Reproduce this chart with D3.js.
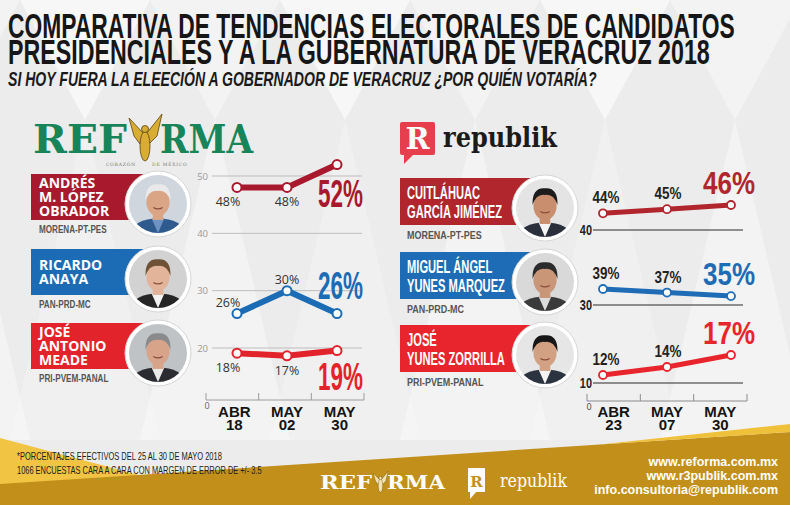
<!DOCTYPE html>
<html lang="es">
<head>
<meta charset="UTF-8">
<title>Comparativa de tendencias electorales 2018</title>
<script src="https://d3js.org/d3.v7.min.js"></script>
<style>
  body { margin: 0; background: #ececec; }
  svg { display: block; }
</style>
</head>
<body>
<script>
// ---- data ----
var reformaDates = ["ABR 18", "MAY 02", "MAY 30"];
var republikDates = ["ABR 23", "MAY 07", "MAY 30"];

var reformaNames = [["ANDRÉS", "M. LÓPEZ", "OBRADOR"], ["RICARDO", "ANAYA"], ["JOSÉ", "ANTONIO", "MEADE"]];
var republikNames = [["CUITLÁHUAC", "GARCÍA JIMÉNEZ"], ["MIGUEL ÁNGEL", "YUNES MARQUEZ"], ["JOSÉ", "YUNES ZORRILLA"]];
var parties = ["MORENA-PT-PES", "PAN-PRD-MC", "PRI-PVEM-PANAL"];

var lopezObrador = [48, 48, 52];
var anaya = [26, 30, 26];
var meade = [18, 17, 19];
var garciaJimenez = [44, 45, 46];
var yunesMarquez = [39, 37, 35];
var yunesZorrilla = [12, 14, 17];

var reformaTicks = [20, 30, 40, 50];
var republikTicks = [40, 30, 10];

var w = 790, h = 505;
var cond = "'Liberation Sans Narrow', 'Liberation Sans', Arial, sans-serif";
var sans = "'Liberation Sans', Arial, sans-serif";
var serif = "'DejaVu Serif', 'Liberation Serif', serif";

var svg = d3.select("body").append("svg")
    .attr("width", w)
    .attr("height", h);

var defs = svg.append("defs");

// squeeze a text horizontally round its anchor point
function squeeze(sel, factor) {
    var x = +sel.attr("x"), y = +sel.attr("y");
    sel.attr("x", null).attr("y", null)
        .attr("transform", "translate(" + x + "," + y + ") scale(" + factor + ",1)");
    return sel;
}
// squeeze a text to a given width
function fit(sel, width) {
    return squeeze(sel, width / sel.node().getComputedTextLength());
}

// ---- background ----
svg.append("rect").attr("width", w).attr("height", h).attr("fill", "#ececec");
var bg = svg.append("g");
for (var i = -1; i < 7; i++) {
    var x0 = i * 130 + 20;
    bg.append("polygon")
        .attr("points", [[x0, 0], [x0 + 130, 0], [x0 + 65, 120]].join(" "))
        .attr("fill", "#fafafa").attr("opacity", i % 2 ? 0.55 : 0.8);
    bg.append("polygon")
        .attr("points", [[x0 + 65, 120], [x0 - 10, 440], [x0 + 140, 440]].join(" "))
        .attr("fill", "#f8f8f8").attr("opacity", i % 2 ? 0.6 : 0.35);
}

// ---- title ----
fit(svg.append("text").attr("x", 8).attr("y", 38)
    .attr("font-family", cond).attr("font-weight", "bold").attr("font-size", 35)
    .attr("fill", "#161616")
    .text("COMPARATIVA DE TENDENCIAS ELECTORALES DE CANDIDATOS"), 727);
fit(svg.append("text").attr("x", 8).attr("y", 64)
    .attr("font-family", cond).attr("font-weight", "bold").attr("font-size", 35)
    .attr("fill", "#161616")
    .text("PRESIDENCIALES Y A LA GUBERNATURA DE VERACRUZ 2018"), 702);
fit(svg.append("text").attr("x", 8).attr("y", 86)
    .attr("font-family", cond).attr("font-style", "italic").attr("font-weight", "bold").attr("font-size", 21)
    .attr("fill", "#1a1a1a")
    .text("SI HOY FUERA LA ELEECIÓN A GOBERNADOR DE VERACRUZ ¿POR QUIÉN VOTARÍA?"), 589);

// ---- logos ----
function angel(g, x, y, s, fill) {
    var a = g.append("g").attr("transform", "translate(" + x + "," + y + ") scale(" + s + ")");
    a.append("path")
        .attr("d", "M0,-4 L-15,-20 L-10,-2 L-4,6 Z M2,-4 L18,-24 L13,-2 L5,6 Z")
        .attr("fill", fill).attr("stroke", "#5a4310").attr("stroke-width", 0.8);
    a.append("ellipse").attr("cx", 1).attr("cy", 8).attr("rx", 5).attr("ry", 15)
        .attr("fill", fill).attr("stroke", "#5a4310").attr("stroke-width", 0.8);
    a.append("circle").attr("cx", 1).attr("cy", -9).attr("r", 3.5)
        .attr("fill", fill).attr("stroke", "#5a4310").attr("stroke-width", 0.8);
}

var reformaGreen = "#17845a";
fit(svg.append("text").attr("x", 33).attr("y", 153)
    .attr("font-family", serif).attr("font-weight", "bold").attr("font-size", 39)
    .attr("fill", reformaGreen).text("REF"), 94);
fit(svg.append("text").attr("x", 160).attr("y", 153)
    .attr("font-family", serif).attr("font-weight", "bold").attr("font-size", 39)
    .attr("fill", reformaGreen).text("RMA"), 93);
angel(svg, 144, 138, 1, "#d8ad32");
svg.append("text").attr("x", 136).attr("y", 166).attr("text-anchor", "end")
    .attr("font-family", serif).attr("font-size", 4.5).attr("fill", "#777")
    .attr("letter-spacing", 0.8).text("CORAZÓN");
svg.append("text").attr("x", 152).attr("y", 166)
    .attr("font-family", serif).attr("font-size", 4.5).attr("fill", "#777")
    .attr("letter-spacing", 0.8).text("DE MÉXICO");

svg.append("rect").attr("x", 400).attr("y", 122).attr("width", 35).attr("height", 33).attr("rx", 2)
    .attr("fill", "#e63e4d");
svg.append("polygon").attr("points", "404,152 404,164 415,153").attr("fill", "#e63e4d");
svg.append("text").attr("x", 417.5).attr("y", 149).attr("text-anchor", "middle")
    .attr("font-family", serif).attr("font-weight", "bold").attr("font-size", 29)
    .attr("fill", "#fff").text("R");
fit(svg.append("text").attr("x", 443).attr("y", 147)
    .attr("font-family", serif).attr("font-weight", "bold").attr("font-size", 27)
    .attr("fill", "#1b1b1b").text("republik"), 114);

// ---- candidate cards ----
var portraitId = 0;
function portrait(g, cx, cy, r, look) {
    var id = "clip" + (portraitId++);
    defs.append("clipPath").attr("id", id)
        .append("circle").attr("cx", cx).attr("cy", cy).attr("r", r);
    g.append("circle").attr("cx", cx).attr("cy", cy).attr("r", r + 4)
        .attr("fill", "#fff").attr("stroke", "#d6d6d6").attr("stroke-width", 1);
    var p = g.append("g").attr("clip-path", "url(#" + id + ")");
    p.append("rect").attr("x", cx - r).attr("y", cy - r).attr("width", 2 * r).attr("height", 2 * r)
        .attr("fill", look.bg);
    p.append("ellipse").attr("cx", cx).attr("cy", cy + r * 1.0).attr("rx", r * 0.95).attr("ry", r * 0.5)
        .attr("fill", look.suit);
    p.append("polygon")
        .attr("points", [[cx - r * 0.22, cy + r * 0.5], [cx + r * 0.22, cy + r * 0.5], [cx, cy + r]].join(" "))
        .attr("fill", look.shirt);
    p.append("rect").attr("x", cx - r * 0.18).attr("y", cy + r * 0.2).attr("width", r * 0.36).attr("height", r * 0.35)
        .attr("fill", look.skin);
    p.append("ellipse").attr("cx", cx).attr("cy", cy - r * 0.08).attr("rx", r * 0.4).attr("ry", r * 0.5)
        .attr("fill", look.skin);
    p.append("path")
        .attr("d", "M" + (cx - r * 0.43) + "," + (cy - r * 0.1) +
            " Q" + (cx - r * 0.45) + "," + (cy - r * 0.72) + " " + cx + "," + (cy - r * 0.68) +
            " Q" + (cx + r * 0.45) + "," + (cy - r * 0.72) + " " + (cx + r * 0.43) + "," + (cy - r * 0.1) +
            " Q" + (cx + r * 0.3) + "," + (cy - r * 0.5) + " " + cx + "," + (cy - r * 0.45) +
            " Q" + (cx - r * 0.3) + "," + (cy - r * 0.5) + " " + (cx - r * 0.43) + "," + (cy - r * 0.1) + "Z")
        .attr("fill", look.hair);
    p.append("path")
        .attr("d", "M" + (cx - r * 0.16) + "," + (cy + r * 0.12) + " Q" + cx + "," + (cy + r * 0.22) + " " + (cx + r * 0.16) + "," + (cy + r * 0.12))
        .attr("fill", "none").attr("stroke", "#8a4b3c").attr("stroke-width", 1.2);
}

var reformaRows = [
    { names: reformaNames[0], party: parties[0], values: lopezObrador, color: "#a9192d", top: 174, side: 19, bigDy: 42,
      look: { bg: "#cfd6de", suit: "#2f5a8e", shirt: "#6d93c2", skin: "#d9a585", hair: "#e9e9e9" } },
    { names: reformaNames[1], party: parties[1], values: anaya, color: "#1b6cb5", top: 249, side: -7, bigDy: -15,
      look: { bg: "#d2d2d2", suit: "#262626", shirt: "#f2f2f2", skin: "#e2b49a", hair: "#6f5236" } },
    { names: reformaNames[2], party: parties[2], values: meade, color: "#e2232b", top: 323, side: 19, bigDy: 39,
      look: { bg: "#bfc3c6", suit: "#2b2c32", shirt: "#e9e9e9", skin: "#d7a48a", hair: "#8a8a8a" } }
];

var republikRows = [
    { names: republikNames[0], party: parties[0], values: garciaJimenez, color: "#b1262d", top: 178, tick: republikTicks[0],
      scale: d3.scaleLinear().domain([40, 46]).range([230, 205]),
      look: { bg: "#e4e4e4", suit: "#2a2f3c", shirt: "#f4f4f4", skin: "#c98e6e", hair: "#1c1c1c" } },
    { names: republikNames[1], party: parties[1], values: yunesMarquez, color: "#1d6cb5", top: 252, tick: republikTicks[1],
      scale: d3.scaleLinear().domain([30, 39]).range([305, 289]),
      look: { bg: "#d9d9d9", suit: "#3a3a3a", shirt: "#dcdcdc", skin: "#c99678", hair: "#2b2b2b" } },
    { names: republikNames[2], party: parties[2], values: yunesZorrilla, color: "#e8252c", top: 325, tick: republikTicks[2],
      scale: d3.scaleLinear().domain([10, 17]).range([383, 355]),
      look: { bg: "#e6e6e6", suit: "#2b3341", shirt: "#f4f4f4", skin: "#d2a183", hair: "#171717" } }
];

// ---- REFORMA chart ----
var yLeft = d3.scaleLinear().domain([0, 20, 50]).range([400, 348, 176]);
var xLeftBand = d3.scaleBand().domain(reformaDates).range([206, 364]);
var xLeft = d3.scalePoint().domain(reformaDates).range([237, 337]);

var left = svg.append("g");

reformaRows.forEach(function(row) {
    var bh = 46;
    left.append("rect").attr("x", 31).attr("y", row.top).attr("width", 130).attr("height", bh)
        .attr("fill", row.color);
    var n = row.names.length;
    var name = left.append("text")
        .attr("font-family", "'Open Sans', sans-serif").attr("font-weight", "bold")
        .attr("font-size", 14).attr("fill", "#fff");
    row.names.forEach(function(line, k) {
        name.append("tspan")
            .attr("x", 39).attr("y", row.top + 28 - (n - 1) * 7 + k * 14)
            .text(line);
    });
    squeeze(left.append("text").attr("x", 39).attr("y", row.top + bh + 13)
        .attr("font-family", cond).attr("font-weight", "bold").attr("font-size", 11)
        .attr("fill", "#555").text(row.party), 0.74);
    portrait(left, 158, row.top + 30, 29, row.look);
});

left.selectAll(".grid").data(reformaTicks).enter().append("line")
    .attr("x1", 212).attr("x2", 362)
    .attr("y1", function(d) { return yLeft(d); })
    .attr("y2", function(d) { return yLeft(d); })
    .attr("stroke", "#bdbdbd").attr("stroke-width", 1);
left.selectAll(".tick").data(reformaTicks).enter().append("text")
    .attr("x", 208).attr("y", function(d) { return yLeft(d) + 3.5; })
    .attr("text-anchor", "end")
    .attr("font-family", "'Open Sans', sans-serif").attr("font-size", 9.5).attr("fill", "#9a9a9a")
    .text(function(d) { return d; });

// baseline with separators between dates
var leftEdges = reformaDates.map(function(d) { return xLeftBand(d); }).concat([xLeftBand.range()[1]]);
left.append("line").attr("x1", leftEdges[0]).attr("x2", leftEdges[3])
    .attr("y1", yLeft(0)).attr("y2", yLeft(0)).attr("stroke", "#9c9c9c");
left.selectAll(".sep").data(leftEdges).enter().append("line")
    .attr("x1", function(d) { return d; }).attr("x2", function(d) { return d; })
    .attr("y1", yLeft(0) - 7).attr("y2", yLeft(0)).attr("stroke", "#9c9c9c");
left.append("text").attr("x", leftEdges[0] + 1).attr("y", yLeft(0) + 9).attr("text-anchor", "middle")
    .attr("font-family", "'Open Sans', sans-serif").attr("font-size", 9).attr("fill", "#666").text(0);

reformaDates.forEach(function(d) {
    var parts = d.split(" ");
    var cx = xLeftBand(d) + xLeftBand.bandwidth() / 2 + 2;
    var t = left.append("text").attr("text-anchor", "middle")
        .attr("font-family", sans).attr("font-weight", "bold")
        .attr("font-size", 15).attr("fill", "#141414");
    t.append("tspan").attr("x", cx).attr("y", 417).text(parts[0]);
    t.append("tspan").attr("x", cx).attr("y", 430).text(parts[1]);
});

var lineLeft = d3.line()
    .x(function(d, i) { return xLeft(reformaDates[i]); })
    .y(function(d) { return yLeft(d); });

reformaRows.forEach(function(row) {
    left.append("path").datum(row.values).attr("d", lineLeft)
        .attr("fill", "none").attr("stroke", row.color).attr("stroke-width", 6)
        .attr("stroke-linejoin", "round").attr("stroke-linecap", "round");
    left.selectAll(null).data(row.values).enter().append("circle")
        .attr("cx", function(d, i) { return xLeft(reformaDates[i]); })
        .attr("cy", function(d) { return yLeft(d); })
        .attr("r", 4.5).attr("fill", "#fff").attr("stroke", row.color).attr("stroke-width", 2);
    left.selectAll(null).data(row.values.slice(0, 2)).enter().append("text")
        .attr("x", function(d, i) { return xLeft(reformaDates[i]) - (i === 0 ? 9 : 0); })
        .attr("y", function(d) { return yLeft(d) + row.side; })
        .attr("text-anchor", "middle")
        .attr("font-family", "'Open Sans', sans-serif").attr("font-size", 12.5).attr("fill", "#333")
        .text(function(d) { return d + "%"; });
    var last = row.values[row.values.length - 1];
    fit(left.append("text").attr("x", 318).attr("y", yLeft(last) + row.bigDy)
        .attr("font-family", cond).attr("font-weight", "bold").attr("font-size", 38)
        .attr("fill", row.color).text(last + "%"), 45);
});

// ---- republik chart ----
var xRightBand = d3.scaleBand().domain(republikDates).range([587, 747]);
var xRight = d3.scalePoint().domain(republikDates).range([603, 731]);
var right = svg.append("g");

republikRows.forEach(function(row) {
    var bh = 47;
    right.append("rect").attr("x", 400).attr("y", row.top).attr("width", 140).attr("height", bh)
        .attr("fill", row.color);
    var name = right.append("text")
        .attr("transform", "translate(407," + (row.top + bh - 26) + ") scale(0.62,1)")
        .attr("font-family", cond).attr("font-weight", "bold")
        .attr("font-size", 18).attr("fill", "#fff");
    row.names.forEach(function(line, k) {
        name.append("tspan").attr("x", 0).attr("y", k * 19).text(line);
    });
    squeeze(right.append("text").attr("x", 407).attr("y", row.top + bh + 14)
        .attr("font-family", cond).attr("font-weight", "bold").attr("font-size", 11.5)
        .attr("fill", "#555").text(row.party), 0.78);
    portrait(right, 545, row.top + 30, 29, row.look);

    var y = row.scale;
    right.append("line").attr("x1", 593).attr("x2", 743)
        .attr("y1", y(row.tick)).attr("y2", y(row.tick))
        .attr("stroke", "#2a2a2a").attr("stroke-width", 1);
    squeeze(right.append("text").attr("x", 592).attr("y", y(row.tick) + 5).attr("text-anchor", "end")
        .attr("font-family", cond).attr("font-weight", "bold").attr("font-size", 14)
        .attr("fill", "#222").text(row.tick), 0.78);

    var line = d3.line()
        .x(function(d, i) { return xRight(republikDates[i]); })
        .y(function(d) { return y(d); });
    right.append("path").datum(row.values).attr("d", line)
        .attr("fill", "none").attr("stroke", row.color).attr("stroke-width", 5)
        .attr("stroke-linecap", "round");
    right.selectAll(null).data(row.values).enter().append("circle")
        .attr("cx", function(d, i) { return xRight(republikDates[i]); })
        .attr("cy", function(d) { return y(d); })
        .attr("r", 4).attr("fill", "#fff").attr("stroke", row.color).attr("stroke-width", 1.8);
    row.values.slice(0, 2).forEach(function(d, i) {
        squeeze(right.append("text")
            .attr("x", xRight(republikDates[i]) + (i === 0 ? 3 : 1))
            .attr("y", y(d) - 10)
            .attr("text-anchor", "middle")
            .attr("font-family", cond).attr("font-weight", "bold").attr("font-size", 16).attr("fill", "#222")
            .text(d + "%"), 0.84);
    });
    var last = row.values[row.values.length - 1];
    fit(right.append("text").attr("x", 703).attr("y", y(last) - 11)
        .attr("font-family", cond).attr("font-weight", "bold").attr("font-size", 31)
        .attr("fill", row.color).text(last + "%"), 52);
});

var rightEdges = republikDates.map(function(d) { return xRightBand(d); }).concat([xRightBand.range()[1]]);
right.append("line").attr("x1", rightEdges[0]).attr("x2", rightEdges[3])
    .attr("y1", 401).attr("y2", 401).attr("stroke", "#8c8c8c");
right.selectAll(".sep").data(rightEdges).enter().append("line")
    .attr("x1", function(d) { return d; }).attr("x2", function(d) { return d; })
    .attr("y1", 394).attr("y2", 401).attr("stroke", "#8c8c8c");
right.append("text").attr("x", rightEdges[0] + 2).attr("y", 410).attr("text-anchor", "middle")
    .attr("font-family", "'Open Sans', sans-serif").attr("font-size", 9).attr("fill", "#444").text(0);

republikDates.forEach(function(d) {
    var parts = d.split(" ");
    var cx = xRightBand(d) + xRightBand.bandwidth() / 2;
    var t = right.append("text").attr("text-anchor", "middle")
        .attr("font-family", sans).attr("font-weight", "bold")
        .attr("font-size", 15).attr("fill", "#141414");
    t.append("tspan").attr("x", cx).attr("y", 417).text(parts[0]);
    t.append("tspan").attr("x", cx).attr("y", 430).text(parts[1]);
});

// ---- footer ----
var foot = svg.append("g");
foot.append("polygon").attr("points", "0,438 150,478 0,485").attr("fill", "#f1c443");
foot.append("polygon").attr("points", "0,484 790,432 790,505 0,505").attr("fill", "#c2901a");
foot.append("polygon").attr("points", "600,444.5 790,424 790,432").attr("fill", "#efc03a");

fit(foot.append("text").attr("x", 17).attr("y", 460)
    .attr("font-family", cond).attr("font-size", 11).attr("fill", "#222")
    .text("*PORCENTAJES EFECTIVOS DEL 25 AL 30 DE MAYO 2018"), 205);
fit(foot.append("text").attr("x", 17).attr("y", 474)
    .attr("font-family", cond).attr("font-size", 11).attr("fill", "#222")
    .text("1066 ENCUESTAS CARA A CARA CON MARGEN DE ERROR DE +/- 3.5"), 245);

fit(foot.append("text").attr("x", 320).attr("y", 489)
    .attr("font-family", serif).attr("font-weight", "bold").attr("font-size", 19)
    .attr("fill", "#fff").text("REF"), 52);
angel(foot, 380, 482, 0.45, "#f3e2b0");
fit(foot.append("text").attr("x", 387).attr("y", 489)
    .attr("font-family", serif).attr("font-weight", "bold").attr("font-size", 19)
    .attr("fill", "#fff").text("RMA"), 58);

foot.append("rect").attr("x", 468).attr("y", 468).attr("width", 17).attr("height", 24).attr("fill", "#fff");
foot.append("polygon").attr("points", "470,491 470,499 477,491").attr("fill", "#fff");
foot.append("text").attr("x", 476.5).attr("y", 487).attr("text-anchor", "middle")
    .attr("font-family", serif).attr("font-weight", "bold").attr("font-size", 15)
    .attr("fill", "#c2901a").text("R");
fit(foot.append("text").attr("x", 500).attr("y", 487)
    .attr("font-family", serif).attr("font-size", 19)
    .attr("fill", "#fff").text("republik"), 67);

["www.reforma.com.mx", "www.r3publik.com.mx", "info.consultoria@republik.com"].forEach(function(t, k) {
    foot.append("text").attr("x", 778).attr("y", 466 + k * 14).attr("text-anchor", "end")
        .attr("font-family", sans).attr("font-weight", "bold")
        .attr("font-size", 12.5).attr("fill", "#fff").text(t);
});
</script>
</body>
</html>
